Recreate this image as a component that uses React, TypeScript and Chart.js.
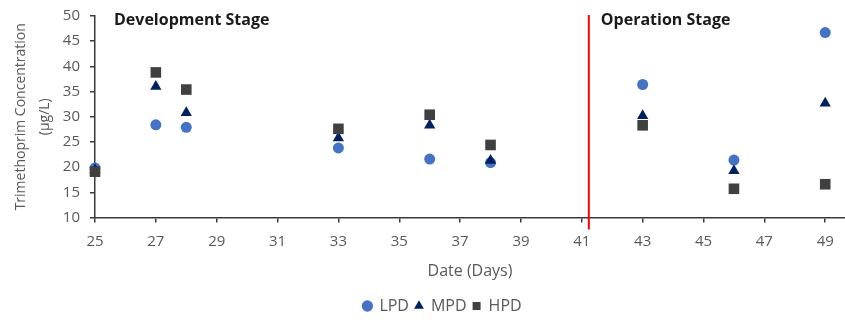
import React, { useEffect, useRef } from 'react';
import { Chart, registerables } from 'chart.js';

Chart.register(...registerables);

// ---- data ----
const days = [25, 27, 28, 33, 36, 38, 43, 46, 49];
const lpdValues = [19.85, 28.4, 27.9, 23.8, 21.6, 20.9, 36.4, 21.4, 46.7];
const mpdValues = [19.5, 36.0, 30.8, 25.8, 28.3, 21.3, 30.2, 19.3, 32.7];
const hpdValues = [19.1, 38.8, 35.4, 27.6, 30.4, 24.4, 28.3, 15.7, 16.6];
const seriesNames = ['LPD', 'MPD', 'HPD'];
const xTickValues = [25, 27, 29, 31, 33, 35, 37, 39, 41, 43, 45, 47, 49];
const stageBoundaryDay = 41.23;
const stageLabels = ['Development Stage', 'Operation Stage'];

const FONT = '"Open Sans", Lato, sans-serif';
const TEXT = '#595959';
const AXIS = '#3a3a3a';

export default function App() {
  const ref = useRef<HTMLCanvasElement>(null);

  useEffect(() => {
    document.body.style.margin = '0';
    const canvas = ref.current!;

    const stagePlugin = {
      id: 'stages',
      afterLayout(chart: any) {
        const l = chart.legend;
        if (l) {
          l.left += 20;
          l.right += 20;
          l.top += 4;
          l.bottom += 4;
        }
      },
      beforeDatasetsDraw(chart: any) {
        const { ctx, chartArea, scales } = chart;
        const x = scales.x.getPixelForValue(stageBoundaryDay);
        ctx.save();
        ctx.strokeStyle = '#ff0000';
        ctx.lineWidth = 2;
        ctx.beginPath();
        ctx.moveTo(x, chartArea.top - 1);
        ctx.lineTo(x, chartArea.bottom + 12);
        ctx.stroke();
        ctx.restore();
      },
      afterDatasetsDraw(chart: any) {
        const { ctx, chartArea, scales } = chart;
        const xb = scales.x.getPixelForValue(stageBoundaryDay);
        ctx.save();
        ctx.font = `bold 16px ${FONT}`;
        ctx.fillStyle = '#1a1a1a';
        ctx.textBaseline = 'alphabetic';
        ctx.textAlign = 'left';
        const y = chartArea.top + 9;
        ctx.fillText(stageLabels[0], chartArea.left + 19, y);
        ctx.fillText(stageLabels[1], xb + 12, y);
        ctx.restore();
      },
    };

    const mk = (vals: number[]) => days.map((d, i) => ({ x: d, y: vals[i] }));

    const chart = new Chart(canvas, {
      type: 'scatter',
      data: {
        datasets: [
          {
            label: seriesNames[0],
            data: mk(lpdValues),
            pointStyle: 'circle',
            pointRadius: 5.5,
            backgroundColor: '#4472C4',
            borderColor: '#4472C4',
            borderWidth: 0,
            order: 3,
            clip: false as any,
          },
          {
            label: seriesNames[1],
            data: mk(mpdValues),
            pointStyle: 'triangle',
            pointRadius: 6.5,
            backgroundColor: '#002060',
            borderColor: '#002060',
            borderWidth: 0,
            order: 2,
            clip: false as any,
          },
          {
            label: seriesNames[2],
            data: mk(hpdValues),
            pointStyle: 'rect',
            pointRadius: 7.5,
            backgroundColor: '#404040',
            borderColor: '#404040',
            borderWidth: 0,
            order: 1,
            clip: false as any,
          },
        ],
      },
      options: {
        responsive: false,
        animation: false,
        layout: { autoPadding: false, padding: { top: 16, left: 0, right: 0, bottom: 0 } },
        plugins: {
          tooltip: { enabled: false },
          legend: {
            position: 'bottom',
            labels: {
              usePointStyle: true,
              boxWidth: 8,
              boxHeight: 8,
              padding: 6,
              color: TEXT,
              font: { family: FONT, size: 16 },
              sort: (a: any, b: any) => a.datasetIndex - b.datasetIndex,
            },
          },
        },
        scales: {
          x: {
            type: 'linear',
            min: 25,
            max: 49.65,
            afterBuildTicks(scale: any) {
              scale.ticks = xTickValues.map((v) => ({ value: v }));
            },
            ticks: {
              color: TEXT,
              font: { family: FONT, size: 15 },
              padding: 10.5,
              maxRotation: 0,
              autoSkip: false,
            },
            grid: {
              drawOnChartArea: false,
              drawTicks: true,
              tickLength: 5,
              color: AXIS,
              lineWidth: 1.5,
            },
            border: { color: AXIS, width: 1.5 },
            title: {
              display: true,
              text: 'Date (Days)',
              color: TEXT,
              font: { family: FONT, size: 16 },
              padding: { top: 4, bottom: 7 },
            },
            afterFit(scale: any) {
              scale.height = 70.5;
              scale.paddingLeft = 0;
              scale.paddingRight = 0;
            },
          },
          y: {
            min: 10,
            max: 50,
            ticks: {
              stepSize: 5,
              color: TEXT,
              font: { family: FONT, size: 15 },
              padding: 10,
            },
            grid: {
              drawOnChartArea: false,
              drawTicks: true,
              tickLength: 5,
              color: AXIS,
              lineWidth: 1.5,
            },
            border: { color: AXIS, width: 1.5 },
            title: {
              display: true,
              text: ['Trimethoprim Concentration', '(µg/L)'],
              color: TEXT,
              font: { family: FONT, size: 14, lineHeight: 1.7 },
              padding: { top: 9, bottom: 0 },
            },
            afterFit(scale: any) {
              scale.width = 95;
              scale.paddingTop = 0;
              scale.paddingBottom = 0;
            },
          },
        },
      },
      plugins: [stagePlugin],
    } as any);

    return () => chart.destroy();
  }, []);

  return (
    <div style={{ width: 845, height: 320 }}>
      <canvas ref={ref} width={845} height={320} />
    </div>
  );
}
